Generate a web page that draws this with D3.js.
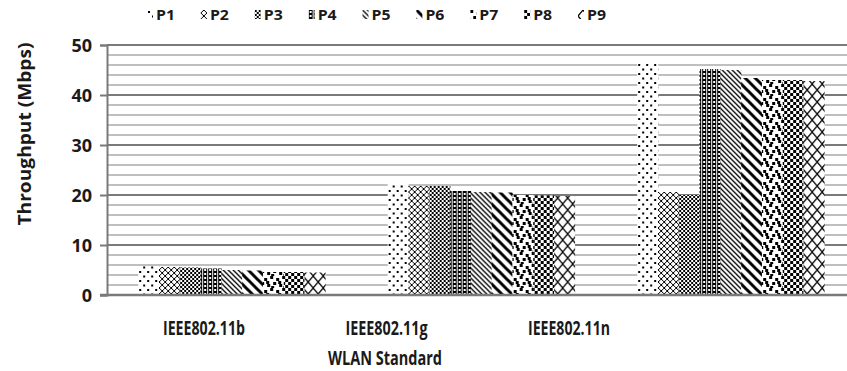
<!DOCTYPE html>
<html>
<head>
<meta charset="utf-8">
<script src="https://cdn.jsdelivr.net/npm/d3@7"></script>
<style>
body{margin:0;background:#fff;}
text{font-family:"Open Sans","Liberation Sans",sans-serif;font-weight:bold;fill:#1a1a1a;}
</style>
</head>
<body>
<div id="chart"></div>
<script>
// data
var standards = ["IEEE802.11b","IEEE802.11g","IEEE802.11n"];
var series = ["P1","P2","P3","P4","P5","P6","P7","P8","P9"];
var P1 = [5.8, 22.2, 46.4];
var P2 = [5.6, 21.8, 20.6];
var P3 = [5.5, 21.8, 20.0];
var P4 = [5.3, 20.8, 45.2];
var P5 = [5.0, 20.6, 45.0];
var P6 = [4.9, 20.5, 43.4];
var P7 = [4.6, 20.0, 43.0];
var P8 = [4.6, 19.9, 43.0];
var P9 = [4.5, 19.8, 42.8];
var values = [P1,P2,P3,P4,P5,P6,P7,P8,P9];
var yTicks = [0,10,20,30,40,50];

var w = 847, h = 371;
var svg = d3.select('#chart').append('svg').attr('width', w).attr('height', h);
var defs = svg.append('defs');

//fill patterns, one per series
function pat(id, pw, ph){
	var p = defs.append('pattern').attr('id', id)
		.attr('patternUnits','userSpaceOnUse')
		.attr('width', pw).attr('height', ph);
	p.append('rect').attr('width', pw).attr('height', ph).attr('fill', '#fff');
	return p;
}
function sq(p, pts, s){
	pts.forEach(function(d){
		p.append('rect').attr('x', d[0]).attr('y', d[1]).attr('width', s).attr('height', s).attr('fill','#000');
	});
}
// P1 sparse dots
var p = pat('pat0', 8, 9);
sq(p, [[1,1],[5,5.5]], 2);
// P2 small open diamonds
p = pat('pat1', 6, 6);
p.append('path').attr('d','M0,3L3,0L6,3L3,6Z').attr('fill','none').attr('stroke','#000').attr('stroke-width',1);
// P3 fine checker
p = pat('pat2', 4, 4);
sq(p, [[0,0],[2,2]], 2);
// P4 black columns with holes
p = pat('pat3', 5, 4);
p.append('rect').attr('width',4).attr('height',4).attr('fill','#000');
p.append('rect').attr('x',1).attr('y',1).attr('width',2).attr('height',2).attr('fill','#fff');
// P5 thin down diagonals
p = pat('pat4', 5, 5);
p.append('path').attr('d','M-1,-1L6,6M-1,4L1,6M4,-1L6,1').attr('stroke','#000').attr('stroke-width',1.3);
// P6 wide down diagonals
p = pat('pat5', 10, 10);
p.append('path').attr('d','M-2,-2L12,12M-2,8L2,12M8,-2L12,2').attr('stroke','#000').attr('stroke-width',3);
// P7 confetti
p = pat('pat6', 12, 12);
sq(p, [[0,0],[6,2],[3,6],[9,8],[1,10],[8,5]], 3);
// P8 checker
p = pat('pat7', 6, 6);
sq(p, [[0,0],[3,3]], 3);
// P9 large open diamonds
p = pat('pat8', 10, 12);
p.append('path').attr('d','M0,6L5,0L10,6L5,12Z').attr('fill','none').attr('stroke','#000').attr('stroke-width',1.2);

//scales
var x0 = d3.scaleBand().domain(standards).range([107, 855.5]).paddingInner(0.25).paddingOuter(0.125);
var x1 = d3.scaleBand().domain(series).range([0, x0.bandwidth()]);
var y = d3.scaleLinear().domain([0, 50]).range([295, 45]);
var xl = d3.scalePoint().domain(standards).range([204, 569]);

//gridlines
var minor = d3.range(2, 50, 2).filter(function(v){ return v % 10 != 0; });
svg.append('g').selectAll('line').data(minor).enter().append('line')
	.attr('x1', 107).attr('x2', w).attr('y1', function(d){ return y(d); }).attr('y2', function(d){ return y(d); })
	.attr('stroke', '#aaa').attr('stroke-width', 1.6);
svg.append('g').selectAll('line').data(yTicks.slice(1)).enter().append('line')
	.attr('x1', 107).attr('x2', w).attr('y1', function(d){ return y(d); }).attr('y2', function(d){ return y(d); })
	.attr('stroke', '#7a7a7a').attr('stroke-width', 2);

//bars
var groups = svg.append('g').selectAll('g').data(standards).enter().append('g')
	.attr('transform', function(d){ return 'translate(' + x0(d) + ',0)'; });
groups.selectAll('rect').data(function(d, gi){
		return series.map(function(s, si){ return {s: s, si: si, v: values[si][gi]}; });
	}).enter().append('rect')
	.attr('x', function(d){ return x1(d.s); })
	.attr('width', x1.bandwidth() + 0.3)
	.attr('y', function(d){ return y(d.v); })
	.attr('height', function(d){ return y(0) - y(d.v); })
	.attr('fill', function(d){ return 'url(#pat' + d.si + ')'; });

//y axis
var yAxis = d3.axisLeft(y).tickValues(yTicks).tickSize(7).tickPadding(8);
var gy = svg.append('g').attr('transform', 'translate(107,0)').call(yAxis);
gy.select('.domain').attr('stroke', '#7a7a7a').attr('stroke-width', 2);
gy.selectAll('.tick line').attr('stroke', '#7a7a7a').attr('stroke-width', 2);
gy.selectAll('.tick text').style('font-size', '18px').style('font-family', '"Open Sans",sans-serif').style('font-weight','bold').attr('fill', '#1a1a1a').attr('dy', '0.36em');

//x baseline
svg.append('line').attr('x1', 100).attr('x2', w).attr('y1', y(0)).attr('y2', y(0))
	.attr('stroke', '#7a7a7a').attr('stroke-width', 2.5);

//category labels
svg.append('g').selectAll('text').data(standards).enter().append('text')
	.attr('x', function(d){ return xl(d); }).attr('y', 335)
	.attr('text-anchor', 'middle').style('font-size', '19px')
	.attr('textLength', 82).attr('lengthAdjust', 'spacingAndGlyphs')
	.text(function(d){ return d; });

svg.append('text').attr('x', 385).attr('y', 365).attr('text-anchor', 'middle')
	.style('font-size', '19px').attr('textLength', 114).attr('lengthAdjust', 'spacingAndGlyphs')
	.text('WLAN Standard');

svg.append('text').attr('transform', 'translate(31,134) rotate(-90)').attr('text-anchor', 'middle')
	.style('font-size', '18px').attr('textLength', 183).attr('lengthAdjust', 'spacingAndGlyphs')
	.text('Throughput (Mbps)');

//legend
var lx = d3.scalePoint().domain(series).range([147, 578]);
var leg = svg.append('g').selectAll('g').data(series).enter().append('g')
	.attr('transform', function(d){ return 'translate(' + lx(d) + ',10)'; });
leg.append('rect').attr('width', 6).attr('height', 9)
	.attr('fill', function(d, i){ return 'url(#pat' + i + ')'; });
leg.append('text').attr('x', 9).attr('y', 10).style('font-size', '15px')
	.attr('textLength', 19).attr('lengthAdjust', 'spacingAndGlyphs')
	.text(function(d){ return d; });
</script>
</body>
</html>
